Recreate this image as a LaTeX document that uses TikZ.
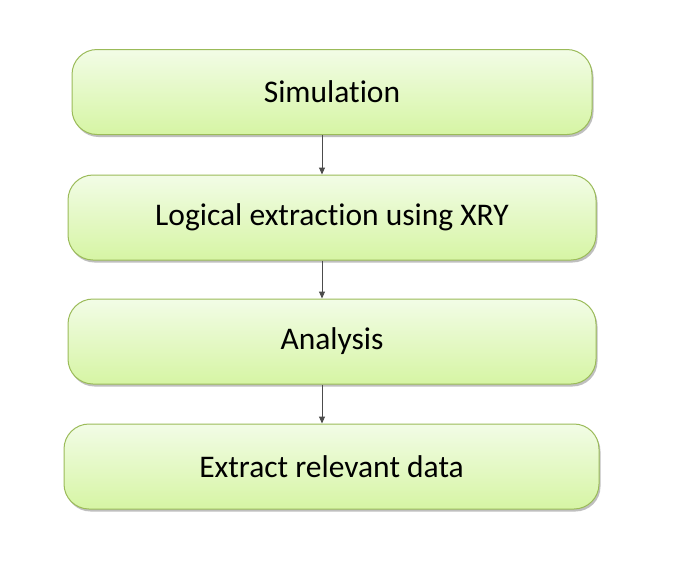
\documentclass[tikz,border=0pt]{standalone}
\usepackage{fontspec}
\setmainfont[Ligatures={NoCommon,NoRare,NoContextual}]{Carlito}
\usetikzlibrary{shadows,calc,arrows.meta}
\definecolor{boxedge}{HTML}{9BBB59}
\definecolor{boxtop}{HTML}{F2FCE6}
\definecolor{boxbot}{HTML}{D6F5A4}
\tikzset{
  stepbox/.style={rectangle, rounded corners=25pt, draw=boxedge, line width=1pt,
    top color=boxtop, bottom color=boxbot, minimum height=85pt,
    font=\fontsize{31.5}{36}\selectfont, text=black,
    drop shadow={shadow xshift=1.5pt, shadow yshift=-2.5pt, fill=black!25, opacity=1}},
  link/.style={draw=black!70, line width=1pt, -{Triangle[length=7pt,width=6pt]}, shorten >=0pt}
}
\begin{document}
\begin{tikzpicture}[x=1pt,y=-1pt]
\useasboundingbox[fill=white] (0,0) rectangle (674,584);
\node[stepbox, minimum width=520pt] (a) at (332,92) {\raisebox{-1.5pt}{Simulation}};
\node[stepbox, minimum width=528pt] (b) at (332,217.5) {\raisebox{-1.5pt}{Logical extraction using XRY}};
\node[stepbox, minimum width=528pt] (c) at (332,341.5) {\raisebox{-1.5pt}{Analysis}};
\node[stepbox, minimum width=535pt] (d) at (331.5,466.5) {\raisebox{-1.5pt}{Extract relevant data}};
\draw[link] ($(a.south)+(-10,0)$) -- ($(b.north)+(-10,0)$);
\draw[link] ($(b.south)+(-10,0)$) -- ($(c.north)+(-10,0)$);
\draw[link] ($(c.south)+(-10,0)$) -- ($(d.north)+(-9.5,0)$);
\end{tikzpicture}
\end{document}
